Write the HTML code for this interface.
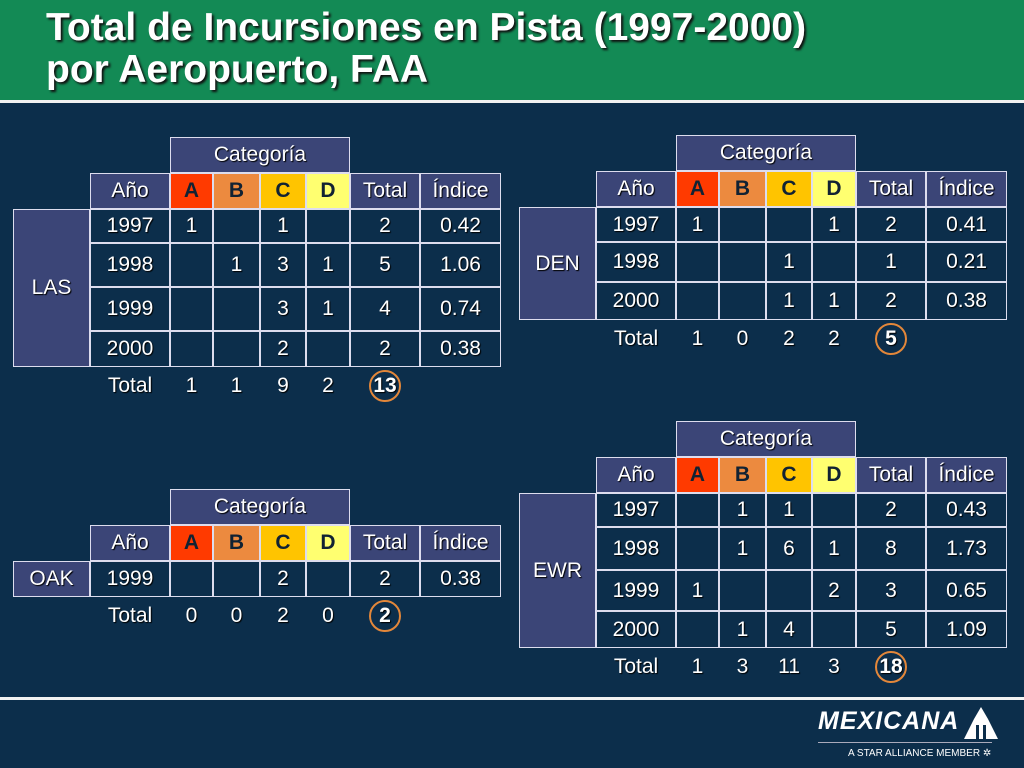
<!DOCTYPE html>
<html><head><meta charset="utf-8">
<style>
body{margin:0;width:1024px;height:768px;overflow:hidden;background:#0c2e4b;font-family:"Liberation Sans",sans-serif;position:relative}
#hdr{position:absolute;left:0;top:0;width:1024px;height:100px;background:#138a55}
#hl{position:absolute;left:0;top:100px;width:1024px;height:3px;background:#f2f2f2}
#title{position:absolute;left:46px;top:7px;color:#fff;font-weight:bold;font-size:39px;line-height:42px;text-shadow:2px 2px 2px #111}
#fl{position:absolute;left:0;top:697px;width:1024px;height:3px;background:#f2f2f2}
.c{position:absolute;box-sizing:border-box;color:#fff;font-size:21px;display:flex;align-items:center;justify-content:center;text-shadow:1px 1px 1px #000}
.ring{position:absolute;width:32px;height:32px;border:2px solid #e3873a;border-radius:50%;box-sizing:border-box}
</style></head><body>
<div id="hdr"></div>
<div id="hl"></div>
<div id="title">Total de Incursiones en Pista (1997-2000)<br>por Aeropuerto, FAA</div>
<div id="fl"></div>
<div style="position:absolute;left:818px;top:703px;width:180px;height:60px">
  <div style="position:absolute;left:0;top:4px;color:#fff;font-weight:bold;font-style:italic;font-size:25px;letter-spacing:1px">MEXICANA</div>
  <svg style="position:absolute;left:146px;top:2px" width="34" height="36"><polygon points="17,2 24,14 34,34 0,34 10,14" fill="#fff"/><rect x="12" y="20" width="3" height="14" fill="#0c2e4b"/><rect x="19" y="20" width="3" height="14" fill="#0c2e4b"/></svg>
  <div style="position:absolute;left:0;top:39px;width:174px;height:1px;background:#aab"></div>
  <div style="position:absolute;left:30px;top:45px;color:#fff;font-size:10px">A STAR ALLIANCE MEMBER ✲</div>
</div>
<script>
const cats=['A','B','C','D'];
const lasYears=['1997','1998','1999','2000'];
const lasVals=[[1,'',1,''],['',1,3,1],['','',3,1],['','',2,'']];
const lasTot=[2,5,4,2];const lasIdx=['0.42','1.06','0.74','0.38'];const lasSum=[1,1,9,2,13];
const denYears=['1997','1998','2000'];
const denVals=[[1,'','',1],['','',1,''],['','',1,1]];
const denTot=[2,1,2];const denIdx=['0.41','0.21','0.38'];const denSum=[1,0,2,2,5];
const oakYears=['1999'];const oakVals=[['','',2,'']];const oakTot=[2];const oakIdx=['0.38'];const oakSum=[0,0,2,0,2];
const ewrYears=['1997','1998','1999','2000'];
const ewrVals=[['',1,1,''],['',1,6,1],[1,'','',2],['',1,4,'']];
const ewrTot=[2,8,3,5];const ewrIdx=['0.43','1.73','0.65','1.09'];const ewrSum=[1,3,11,3,18];
const catCol=['#ff3a00','#ec8a3f','#ffc400','#ffff70'];
function cell(x,y,w,h,txt,bg,name,extra){
  const d=document.createElement('div');d.className='c';
  d.style.cssText=`left:${x}px;top:${y}px;width:${w}px;height:${h}px;${bg?'background:'+bg+';':''}${extra||''}`;
  d.textContent=txt;
  
  
  document.body.appendChild(d);return d;
}
function table(key,ox,catY,rowsH,label,years,vals,tot,idx,sum){
  const B='border:1.5px solid #dde;';const S='#3b4577';const N='#0c2e4b';
  const X=[ox,ox+77,ox+157,ox+200,ox+247,ox+293,ox+337,ox+407,ox+488];
  cell(X[2],catY,X[6]-X[2],36,'Categoría',S,key+'-category-header',B);
  const hy=catY+36;
  cell(X[1],hy,X[2]-X[1],36,'Año',S,key+'-year-header',B);
  cats.forEach((c,i)=>cell(X[2+i],hy,X[3+i]-X[2+i],36,c,catCol[i],key+'-cat-'+c,B+'color:#123;font-weight:bold;text-shadow:none'));
  cell(X[6],hy,X[7]-X[6],36,'Total',S,key+'-total-header',B);
  cell(X[7],hy,X[8]-X[7],36,'Índice',S,key+'-index-header',B);
  let y=hy+36;const top=y;
  years.forEach((yr,r)=>{
    const h=rowsH[r];
    cell(X[1],y,X[2]-X[1],h,yr,N,key+'-year-'+yr,B);
    vals[r].forEach((v,i)=>cell(X[2+i],y,X[3+i]-X[2+i],h,String(v),N,key+'-'+yr+'-'+cats[i],B));
    cell(X[6],y,X[7]-X[6],h,String(tot[r]),N,key+'-'+yr+'-total',B);
    cell(X[7],y,X[8]-X[7],h,idx[r],N,key+'-'+yr+'-index',B);
    y+=h;
  });
  cell(X[0],top,X[1]-X[0],y-top,label,S,key+'-airport-label',B);
  const ty=y+2;
  cell(X[1],ty,X[2]-X[1],34,'Total',null,key+'-total-label');
  sum.slice(0,4).forEach((v,i)=>cell(X[2+i],ty,X[3+i]-X[2+i],34,String(v),null,key+'-sum-'+cats[i]));
  cell(X[6],ty,X[7]-X[6],34,String(sum[4]),null,key+'-grand-total','font-weight:bold');
  const r=document.createElement('div');r.className='ring';
  r.style.left=((X[6]+X[7])/2-16)+'px';r.style.top=(ty+1)+'px';
  
  
  document.body.appendChild(r);
}
table('las',13,137,[34,44,44,36],'LAS',lasYears,lasVals,lasTot,lasIdx,lasSum);
table('den',519,135,[35,40,38],'DEN',denYears,denVals,denTot,denIdx,denSum);
table('oak',13,489,[36],'OAK',oakYears,oakVals,oakTot,oakIdx,oakSum);
table('ewr',519,421,[34,43,41,37],'EWR',ewrYears,ewrVals,ewrTot,ewrIdx,ewrSum);
</script>
</body></html>
